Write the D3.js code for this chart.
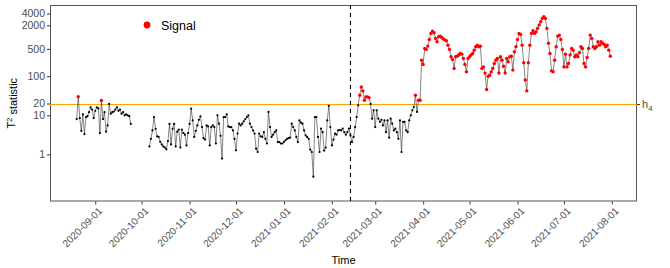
<!DOCTYPE html>
<html>
<head>
<meta charset="utf-8">
<script src="https://cdn.jsdelivr.net/npm/d3@7"></script>
<style>
  body { margin: 0; background: #fff; }
  svg { display: block; }
  text { font-family: "Liberation Sans", Arial, sans-serif; }
</style>
</head>
<body>
<svg width="670" height="268"></svg>
<script>
/* global d3 */

// first stretch of daily T^2 values (before the gap)
const seg1Start = '2020-08-20'
const seg1Values = [
  8, 30, 8.5, 4, 10.5, 3.3, 9, 9.5, 12, 16,
  14, 8.5, 13, 16, 15, 3.5, 24, 8, 12, 3.8,
  5.5, 19.5, 11, 12, 12.5, 14, 16, 13, 14, 11,
  12, 10, 10.5, 10, 9.5, 6
]

// second stretch, daily until the end of july
const seg2Start = '2020-10-06'
const seg2Values = [
  1.6, 2.5, 4.1, 9, 4.5, 2.9, 2.8, 2.1, 1.8, 1.6,
  1.5, 1.35, 2.2, 6, 1.8, 4.5, 6, 1.6, 3.8, 4.3,
  1.5, 4.3, 3.5, 3.2, 1.7, 3.5, 6, 14.8, 7.4, 2.8,
  4, 5.5, 7.7, 9.4, 5, 2.6, 2.4, 5.5, 5.2, 1.7,
  5, 5.5, 5, 1.9, 10, 6.1, 3, 0.78, 9, 9,
  10.6, 5.2, 5, 5, 4.1, 2.5, 1.27, 3.4, 6.1, 5.5,
  6.1, 7, 8, 9, 10, 6.1, 5, 4.1, 3.4, 1.4,
  1.15, 3.4, 2.9, 2.8, 3.7, 2.5, 1.9, 12.2, 5, 2.8,
  3.2, 3.7, 4.1, 2.07, 2.07, 1.9, 1.9, 2.1, 2.3, 2.5,
  2.6, 2.7, 6.1, 5, 4.1, 2.8, 2.07, 7.4, 6.5, 6.1,
  4.1, 3.07, 2.8, 2.5, 1.32, 1.15, 0.27, 9, 9, 2.8,
  1.15, 4.55, 3.7, 1.25, 1.5, 7.4, 17.5, 5, 1.7, 2.4,
  3.4, 3.2, 4.1, 4.2, 4.1, 4.6, 3.7, 3.2, 3.7, 4.6,
  3.07, 2.07, 2.8, 5, 9, 18, 32.5, 53, 42, 24.3,
  29.5, 29.5, 28.3, 19.5, 8.2, 13.4, 5, 13.4, 8.2, 6.8,
  7.7, 5.5, 7.4, 3.7, 7.4, 2.67, 8.2, 6.1, 4.1, 4.55,
  3.7, 2.5, 7.4, 1.15, 6.8, 6.8, 4.1, 3.7, 7.4, 10,
  13.4, 16.3, 32.5, 12.2, 24.3, 24.3, 257, 200, 510, 484,
  588, 870, 1243, 1425, 1290, 925, 760, 1020, 1060, 980,
  890, 850, 805, 623, 484, 313, 267, 157, 313, 326,
  347, 381, 366, 284, 200, 129, 284, 313, 347, 381,
  464, 565, 623, 565, 586, 157, 173, 120, 45.5, 100,
  106, 129, 157, 211, 257, 284, 121, 313, 257, 180,
  121, 284, 233, 313, 326, 143, 421, 565, 870, 1243,
  1170, 623, 220, 80, 42, 220, 623, 1243, 1450, 1243,
  1370, 1670, 2030, 2470, 3010, 3320, 3010, 1670, 700, 381,
  137, 129, 257, 565, 1060, 1125, 870, 484, 173, 366,
  173, 211, 350, 512, 464, 313, 347, 313, 398, 565,
  512, 211, 173, 300, 512, 1125, 925, 565, 512, 565,
  760, 623, 760, 690, 655, 565, 623, 464, 326
]

const threshold = 20
const thresholdLabel = 'h'
const thresholdSub = '4'
const changeDate = '2021-02-13'
const yTickValues = [1, 10, 20, 100, 500, 2000, 4000]
const xTickLabels = [
  '2020-09-01', '2020-10-01', '2020-11-01', '2020-12-01', '2021-01-01', '2021-02-01',
  '2021-03-01', '2021-04-01', '2021-05-01', '2021-06-01', '2021-07-01', '2021-08-01'
]

const svg = d3.select('svg')
const margin = { top: 5, right: 33, bottom: 66.5, left: 50 }
const width = +svg.attr('width')
const height = +svg.attr('height')
const innerWidth = width - margin.left - margin.right
const innerHeight = height - margin.top - margin.bottom

const parse = d3.utcParse('%Y-%m-%d')

const segments = [[seg1Start, seg1Values], [seg2Start, seg2Values]]
  .map(([start, vals]) => vals.map((v, i) => ({
    date: d3.utcDay.offset(parse(start), i),
    value: v
  })))
const allPoints = segments.flat()

const [dMin, dMax] = d3.extent(allPoints, d => d.date)
const pad = (dMax - dMin) * 0.05
const xScale = d3.scaleUtc()
  .domain([new Date(+dMin - pad), new Date(+dMax + pad)])
  .range([0, innerWidth])

const yScale = d3.scaleLog()
  .domain([0.0624, 6620])
  .range([innerHeight, 0])

const g = svg.append('g')
  .attr('transform', `translate(${margin.left},${margin.top})`)

// axes
const xAxis = d3.axisBottom(xScale)
  .tickValues(xTickLabels.map(parse))
  .tickFormat(d3.utcFormat('%Y-%m-%d'))
  .tickSize(3)
const yAxis = d3.axisLeft(yScale)
  .tickValues(yTickValues)
  .tickFormat(d3.format('d'))
  .tickSize(3)

const xg = g.append('g')
  .attr('transform', `translate(0,${innerHeight})`)
  .call(xAxis)
xg.select('.domain').remove()
xg.selectAll('line').attr('stroke', '#333')
xg.selectAll('text')
  .attr('fill', '#4d4d4d')
  .style('font-size', '10px')
  .attr('text-anchor', 'end')
  .attr('y', 0)
  .attr('dy', '0.72em')
  .attr('transform', 'translate(2,5) rotate(-45)')

const yg = g.append('g').call(yAxis)
yg.select('.domain').remove()
yg.selectAll('line').attr('stroke', '#333')
yg.selectAll('text')
  .attr('fill', '#4d4d4d')
  .style('font-size', '10.5px')
  .attr('x', -5)

// panel border
g.append('rect')
  .attr('x', 0.5).attr('y', 0.5)
  .attr('width', innerWidth - 1)
  .attr('height', innerHeight - 1)
  .attr('fill', 'none')
  .attr('stroke', '#555')
  .attr('stroke-width', 1)

// threshold line
const yT = Math.round(yScale(threshold)) + 0.5
g.append('line')
  .attr('x1', 0).attr('x2', innerWidth)
  .attr('y1', yT).attr('y2', yT)
  .attr('stroke', '#FFA500')
  .attr('stroke-width', 1)

g.append('line')
  .attr('x1', innerWidth).attr('x2', innerWidth + 3)
  .attr('y1', yT).attr('y2', yT)
  .attr('stroke', '#333')

const hLabel = g.append('text')
  .attr('x', innerWidth + 5)
  .attr('y', yT)
  .attr('dy', '0.35em')
  .attr('fill', '#4d4d4d')
  .style('font-size', '11px')
hLabel.append('tspan').text(thresholdLabel)
hLabel.append('tspan')
  .attr('dy', '0.3em')
  .style('font-size', '8px')
  .text(thresholdSub)

// change point
const xC = xScale(parse(changeDate))
g.append('line')
  .attr('x1', xC).attr('x2', xC)
  .attr('y1', 0).attr('y2', innerHeight)
  .attr('stroke', '#000')
  .attr('stroke-width', 1.1)
  .attr('stroke-dasharray', '4,4')

// series
const line = d3.line()
  .x(d => xScale(d.date))
  .y(d => yScale(d.value))

g.selectAll('path.series').data(segments)
  .enter().append('path')
  .attr('class', 'series')
  .attr('fill', 'none')
  .attr('stroke', '#333')
  .attr('stroke-width', 0.6)
  .attr('d', line)

g.selectAll('circle.pt').data(allPoints)
  .enter().append('circle')
  .attr('class', 'pt')
  .attr('cx', d => xScale(d.date))
  .attr('cy', d => yScale(d.value))
  .attr('r', d => d.value > threshold ? 1.7 : 1.1)
  .attr('fill', d => d.value > threshold ? '#FF0000' : '#000')

// legend
g.append('circle')
  .attr('cx', 97).attr('cy', 20)
  .attr('r', 3.4)
  .attr('fill', '#FF0000')
g.append('text')
  .attr('x', 111).attr('y', 20)
  .attr('dy', '0.36em')
  .style('font-size', '12.5px')
  .text('Signal')

// axis titles
svg.append('text')
  .attr('x', margin.left + innerWidth / 2)
  .attr('y', 264)
  .attr('text-anchor', 'middle')
  .style('font-size', '11px')
  .text('Time')

const yTitle = svg.append('text')
  .attr('transform', `translate(15,${margin.top + innerHeight / 2}) rotate(-90)`)
  .attr('text-anchor', 'middle')
  .style('font-size', '11px')
yTitle.append('tspan').text('T')
yTitle.append('tspan')
  .attr('dy', '-0.45em')
  .style('font-size', '7.5px')
  .text('2')
yTitle.append('tspan')
  .attr('dy', '0.45em')
  .text(' statistic')
</script>
</body>
</html>
